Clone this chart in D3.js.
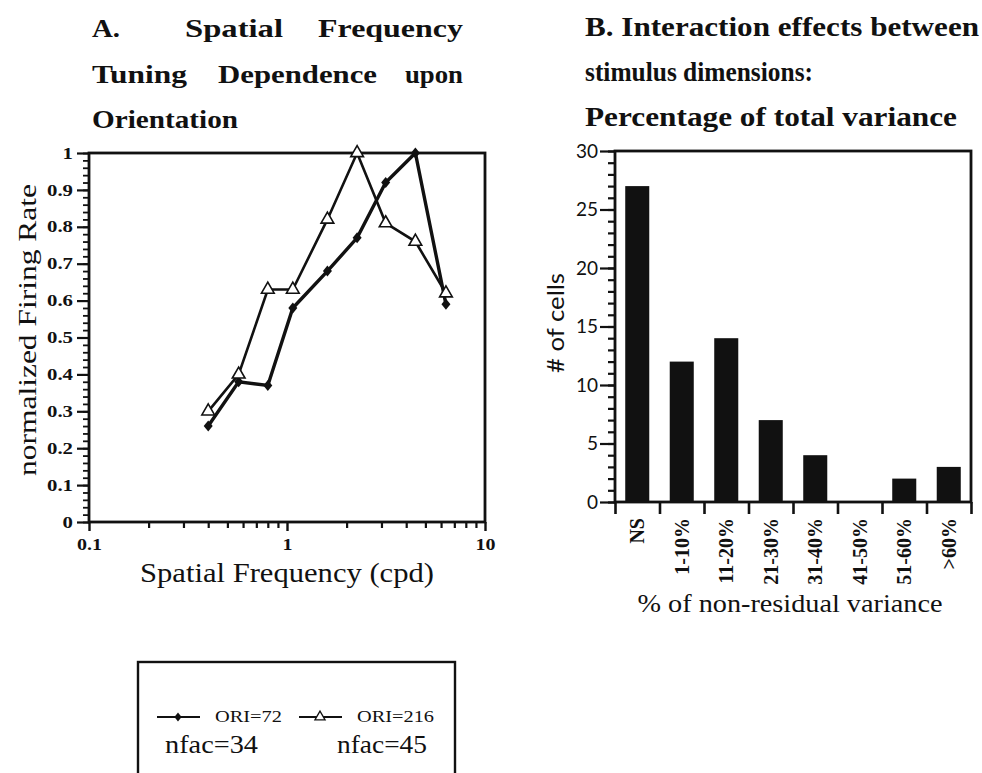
<!DOCTYPE html>
<html>
<head>
<meta charset="utf-8">
<script src="https://cdn.jsdelivr.net/npm/d3@7"></script>
<style>
  html, body { margin: 0; padding: 0; background: #fff; overflow: hidden; }
  svg { display: block; }
</style>
</head>
<body>
<div id="chart"></div>
<script>
// Panel A: spatial frequency tuning for two orientations
const sf_values = [0.4, 0.57, 0.8, 1.07, 1.6, 2.26, 3.15, 4.45, 6.35];
const ori72_rates = [0.26, 0.38, 0.37, 0.58, 0.68, 0.77, 0.92, 1.0, 0.59];
const ori216_rates = [0.30, 0.40, 0.63, 0.63, 0.82, 1.0, 0.81, 0.76, 0.62];
const rate_ticks = [0, 0.1, 0.2, 0.3, 0.4, 0.5, 0.6, 0.7, 0.8, 0.9, 1];
const rate_tick_labels = ['0', '0.1', '0.2', '0.3', '0.4', '0.5', '0.6', '0.7', '0.8', '0.9', '1'];
const sf_ticks = [0.1, 1, 10];
const sf_tick_labels = ['0.1', '1', '10'];
const series_names = ['ORI=72', 'ORI=216'];
const series_nfac = ['nfac=34', 'nfac=45'];

// Panel B: interaction effects histogram
const variance_bins = ['NS', '1-10%', '11-20%', '21-30%', '31-40%', '41-50%', '51-60%', '>60%'];
const cell_counts = [27, 12, 14, 7, 4, 0, 2, 3];
const count_ticks = [0, 5, 10, 15, 20, 25, 30];

const chart_width = 982;
const chart_height = 773;
const serif = "'Liberation Serif', 'Times New Roman', serif";
const sans = "Lato, 'Open Sans', sans-serif";
const ink = '#111';

const svg = d3.select('#chart')
    .append('svg')
    .attr('width', chart_width)
    .attr('height', chart_height)
    .style('background', '#fff');

// stretch text along its own direction
function stretch(sel, k) {
    sel.each(function () {
        const w = this.getComputedTextLength();
        d3.select(this).attr('textLength', w * k).attr('lengthAdjust', 'spacingAndGlyphs');
    });
}

// ---------- Titles ----------
// word, left, right, baseline
const title_a_words = [
    ['A.', 92, 120, 37], ['Spatial', 185, 283, 37], ['Frequency', 318, 463, 37],
    ['Tuning', 92, 187, 83], ['Dependence', 218, 377, 83], ['upon', 405, 463, 83],
    ['Orientation', 92, 238, 128]
];

svg.selectAll('.title-a')
    .data(title_a_words)
    .enter()
    .append('text')
    .attr('class', 'title-a')
    .text(d => d[0])
    .attr('x', d => d[1])
    .attr('y', d => d[3])
    .attr('font-family', serif)
    .attr('font-size', 26)
    .attr('font-weight', 'bold')
    .attr('fill', ink)
    .attr('textLength', d => d[2] - d[1])
    .attr('lengthAdjust', 'spacingAndGlyphs');

const title_b = ['B. Interaction effects between', 'stimulus dimensions:', 'Percentage of total variance'];
const title_b_len = [394, 228, 372];
svg.selectAll('.title-b')
    .data(title_b)
    .enter()
    .append('text')
    .attr('class', 'title-b')
    .text(d => d)
    .attr('x', 585)
    .attr('y', (d, i) => 36 + i * 45)
    .attr('font-family', serif)
    .attr('font-size', 27)
    .attr('font-weight', 'bold')
    .attr('fill', ink)
    .attr('textLength', (d, i) => title_b_len[i])
    .attr('lengthAdjust', 'spacingAndGlyphs');

// ---------- Panel A ----------
const x_scale_a = d3.scaleLog().domain([0.1, 10]).range([89, 485]);
const y_scale_a = d3.scaleLinear().domain([0, 1]).range([522, 153]);

// minor ticks
svg.append('g')
    .attr('transform', 'translate(89,0)')
    .call(d3.axisLeft(y_scale_a).tickValues(d3.range(51).map(i => i / 50)).tickSize(6).tickFormat(''))
    .call(g => g.select('.domain').remove())
    .call(g => g.selectAll('line').attr('stroke', ink).attr('stroke-width', 1.8));

svg.append('g')
    .attr('transform', 'translate(89,0)')
    .call(d3.axisLeft(y_scale_a).tickValues(rate_ticks).tickSize(12).tickPadding(4)
        .tickFormat((d, i) => rate_tick_labels[i]))
    .call(g => g.select('.domain').remove())
    .call(g => g.selectAll('line').attr('stroke', ink).attr('stroke-width', 2.2))
    .call(g => g.selectAll('text')
        .attr('font-family', serif).attr('font-size', 16).attr('font-weight', 'bold').attr('fill', ink)
        .call(stretch, 1.3));

const sf_minor = [0.2, 0.3, 0.4, 0.5, 0.6, 0.7, 0.8, 0.9, 2, 3, 4, 5, 6, 7, 8, 9];
svg.append('g')
    .attr('transform', 'translate(0,522)')
    .call(d3.axisBottom(x_scale_a).tickValues(sf_minor).tickSize(6).tickFormat(''))
    .call(g => g.select('.domain').remove())
    .call(g => g.selectAll('line').attr('stroke', ink).attr('stroke-width', 2.2));

svg.append('g')
    .attr('transform', 'translate(0,522)')
    .call(d3.axisBottom(x_scale_a).tickValues(sf_ticks).tickSize(9).tickPadding(8)
        .tickFormat((d, i) => sf_tick_labels[i]))
    .call(g => g.select('.domain').remove())
    .call(g => g.selectAll('line').attr('stroke', ink).attr('stroke-width', 2.4))
    .call(g => g.selectAll('text')
        .attr('font-family', serif).attr('font-size', 16).attr('font-weight', 'bold').attr('fill', ink)
        .call(stretch, 1.25));

// frame
svg.append('rect')
    .attr('x', x_scale_a(0.1))
    .attr('y', y_scale_a(1))
    .attr('width', x_scale_a(10) - x_scale_a(0.1))
    .attr('height', y_scale_a(0) - y_scale_a(1))
    .attr('fill', 'none')
    .attr('stroke', ink)
    .attr('stroke-width', 2.8);

const line_a = d3.line()
    .x(d => x_scale_a(d[0]))
    .y(d => y_scale_a(d[1]));

const diamond = 'M0,-5.5L4.5,0L0,5.5L-4.5,0Z';
const triangle = d3.symbol().type(d3.symbolTriangle).size(70)();

svg.append('path')
    .datum(d3.zip(sf_values, ori216_rates))
    .attr('d', line_a)
    .attr('fill', 'none')
    .attr('stroke', ink)
    .attr('stroke-width', 2.6);

svg.append('path')
    .datum(d3.zip(sf_values, ori72_rates))
    .attr('d', line_a)
    .attr('fill', 'none')
    .attr('stroke', ink)
    .attr('stroke-width', 3.4);

svg.selectAll('.pt72')
    .data(d3.zip(sf_values, ori72_rates))
    .enter()
    .append('path')
    .attr('class', 'pt72')
    .attr('d', diamond)
    .attr('transform', d => `translate(${x_scale_a(d[0])},${y_scale_a(d[1])})`)
    .attr('fill', ink);

svg.selectAll('.pt216')
    .data(d3.zip(sf_values, ori216_rates))
    .enter()
    .append('path')
    .attr('class', 'pt216')
    .attr('d', triangle)
    .attr('transform', d => `translate(${x_scale_a(d[0])},${y_scale_a(d[1])})`)
    .attr('fill', '#fff')
    .attr('stroke', ink)
    .attr('stroke-width', 1.6);

// axis labels
svg.append('text')
    .text('Spatial Frequency (cpd)')
    .attr('x', 287)
    .attr('y', 582)
    .attr('text-anchor', 'middle')
    .attr('font-family', serif)
    .attr('font-size', 27)
    .attr('fill', ink)
    .attr('textLength', 294)
    .attr('lengthAdjust', 'spacingAndGlyphs');

svg.append('text')
    .text('normalized Firing Rate')
    .attr('transform', 'translate(36,330) rotate(-90)')
    .attr('text-anchor', 'middle')
    .attr('font-family', serif)
    .attr('font-size', 26)
    .attr('fill', ink)
    .attr('textLength', 292)
    .attr('lengthAdjust', 'spacingAndGlyphs');

// ---------- Panel B ----------
const x_scale_b = d3.scaleBand()
    .domain(variance_bins)
    .range([615, 971])
    .paddingInner(0.46)
    .paddingOuter(0.23);

const y_scale_b = d3.scaleLinear().domain([0, 30]).range([502, 151]);
const bin_edges = d3.scaleLinear().domain([0, variance_bins.length]).range([615, 971]);

svg.selectAll('.bar')
    .data(cell_counts)
    .enter()
    .append('rect')
    .attr('class', 'bar')
    .attr('x', (d, i) => x_scale_b(variance_bins[i]))
    .attr('y', d => y_scale_b(d))
    .attr('width', x_scale_b.bandwidth())
    .attr('height', d => y_scale_b(0) - y_scale_b(d))
    .attr('fill', ink);

svg.append('g')
    .attr('transform', 'translate(615,0)')
    .call(d3.axisLeft(y_scale_b).ticks(30).tickSize(7).tickFormat(''))
    .call(g => g.select('.domain').remove())
    .call(g => g.selectAll('line').attr('stroke', ink).attr('stroke-width', 2.2));

svg.append('g')
    .attr('transform', 'translate(615,0)')
    .call(d3.axisLeft(y_scale_b).tickValues(count_ticks).tickSize(15).tickPadding(2))
    .call(g => g.select('.domain').remove())
    .call(g => g.selectAll('line').attr('stroke', ink).attr('stroke-width', 2.2))
    .call(g => g.selectAll('text')
        .attr('font-family', sans).attr('font-size', 19).attr('fill', ink));

svg.append('g')
    .attr('transform', 'translate(0,502)')
    .call(d3.axisBottom(bin_edges).ticks(variance_bins.length).tickSize(12).tickFormat(''))
    .call(g => g.select('.domain').remove())
    .call(g => g.selectAll('line').attr('stroke', ink).attr('stroke-width', 2.6));

svg.append('rect')
    .attr('x', 615)
    .attr('y', y_scale_b(30))
    .attr('width', 971 - 615)
    .attr('height', y_scale_b(0) - y_scale_b(30))
    .attr('fill', 'none')
    .attr('stroke', ink)
    .attr('stroke-width', 2.8);

svg.selectAll('.bin-label')
    .data(variance_bins)
    .enter()
    .append('text')
    .attr('class', 'bin-label')
    .text(d => d)
    .attr('transform', d => `translate(${x_scale_b(d) + x_scale_b.bandwidth() / 2},518) rotate(-90)`)
    .attr('dy', '0.36em')
    .attr('text-anchor', 'end')
    .attr('font-family', serif)
    .attr('font-size', 20)
    .attr('font-weight', 'bold')
    .attr('fill', ink);

svg.append('text')
    .text('% of non-residual variance')
    .attr('x', 790)
    .attr('y', 612)
    .attr('text-anchor', 'middle')
    .attr('font-family', serif)
    .attr('font-size', 25)
    .attr('fill', ink)
    .attr('textLength', 305)
    .attr('lengthAdjust', 'spacingAndGlyphs');

svg.append('text')
    .text('# of cells')
    .attr('transform', 'translate(564,323) rotate(-90)')
    .attr('text-anchor', 'middle')
    .attr('font-family', sans)
    .attr('font-size', 24)
    .attr('fill', ink)
    .attr('textLength', 100)
    .attr('lengthAdjust', 'spacingAndGlyphs');

// ---------- Legend ----------
svg.append('rect')
    .attr('x', 138)
    .attr('y', 662)
    .attr('width', 317)
    .attr('height', 200)
    .attr('fill', 'none')
    .attr('stroke', ink)
    .attr('stroke-width', 2.4);

const legend_x = [157, 299];
const legend_markers = [diamond, triangle];

legend_x.forEach((x, i) => {
    svg.append('line')
        .attr('x1', x).attr('x2', x + 43)
        .attr('y1', 717).attr('y2', 717)
        .attr('stroke', ink)
        .attr('stroke-width', 1.8);
    svg.append('path')
        .attr('d', legend_markers[i])
        .attr('transform', `translate(${x + 21},717) scale(0.8)`)
        .attr('fill', i === 0 ? ink : '#fff')
        .attr('stroke', ink)
        .attr('stroke-width', i === 0 ? 0 : 1.6);
    svg.append('text')
        .text(series_names[i])
        .attr('x', x + 58)
        .attr('y', 722)
        .attr('font-family', serif)
        .attr('font-size', 17)
        .attr('fill', ink)
        .attr('textLength', i === 0 ? 67 : 77)
        .attr('lengthAdjust', 'spacingAndGlyphs');
});

svg.selectAll('.nfac')
    .data(series_nfac)
    .enter()
    .append('text')
    .attr('class', 'nfac')
    .text(d => d)
    .attr('x', (d, i) => i === 0 ? 165 : 337)
    .attr('y', 753)
    .attr('font-family', serif)
    .attr('font-size', 25)
    .attr('fill', ink)
    .attr('textLength', (d, i) => i === 0 ? 93 : 90)
    .attr('lengthAdjust', 'spacingAndGlyphs');
</script>
</body>
</html>
